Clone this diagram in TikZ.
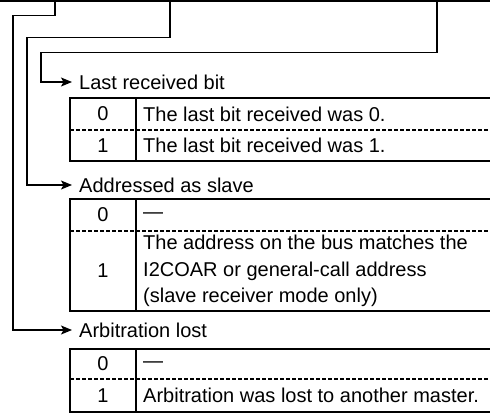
\documentclass[tikz,border=0pt]{standalone}
\usepackage{fontspec}
\setmainfont{Liberation Sans}
\usetikzlibrary{arrows.meta,positioning}

\tikzset{
  flag/.style={line width=1.3pt, -{Stealth[length=11pt,width=9pt,inset=2.5pt]}},
  bitlabel/.style={anchor=west, inner xsep=7pt, inner ysep=0pt},
  cellbox/.style={line width=1.7pt},
  rowsep/.style={line width=1.1pt, dash pattern=on 4pt off 2pt},
  bitval/.style={inner sep=0pt},
  bitdesc/.style={anchor=west, inner xsep=7pt, inner ysep=0pt, align=left}
}

\begin{document}
\begin{tikzpicture}[x=1pt, y=-1pt, font=\fontsize{20}{26.5}\selectfont]
  \useasboundingbox (0,0) rectangle (490,416);
  % register edge (top)
  \draw[line width=2.2pt] (0,1) -- (492,1);
  \coordinate (b0) at (55,1);
  \coordinate (b1) at (170,1);
  \coordinate (b2) at (437,1);
  % bit labels
  \node[bitlabel] (lastbit) at (72,82) {Last received bit};
  \node[bitlabel] (aas) at (72,185) {Addressed as slave};
  \node[bitlabel] (al) at (72,330) {Arbitration lost};
  % connectors
  \draw[flag] (b0) |- (13,15.7) |- (al.west);
  \draw[flag] (b1) |- (27,37.5) |- (aas.west);
  \draw[flag] (b2) |- (41,52.3) |- (lastbit.west);
  % Last received bit table
  \draw[cellbox] (70,98) rectangle (495,161);
  \draw[cellbox] (136,98) -- (136,161);
  \draw[rowsep] (70,130) -- (495,130);
  \node[bitval] (lr0) at (103,114) {0};
  \node[bitval] (lr1) at (103,145.5) {1};
  \node[bitdesc] (lrd0) at (136,114) {The last bit received was 0.};
  \node[bitdesc] (lrd1) at (136,145.5) {The last bit received was 1.};
  % Addressed as slave table
  \draw[cellbox] (70,199) rectangle (495,311);
  \draw[cellbox] (136,199) -- (136,311);
  \draw[rowsep] (70,231) -- (495,231);
  \node[bitval] (as0) at (103,215) {0};
  \node[bitval] (as1) at (103,271) {1};
  \node[bitdesc] (asd0) at (136,216) {---};
  \node[bitdesc] (asd1) at (136,271) {The address on the bus matches the\\I2COAR or general-call address\\(slave receiver mode only)};
  % Arbitration lost table
  \draw[cellbox] (70,349) rectangle (495,412);
  \draw[cellbox] (136,349) -- (136,412);
  \draw[rowsep] (70,379) -- (495,379);
  \node[bitval] (al0) at (103,364) {0};
  \node[bitval] (al1) at (103,395.5) {1};
  \node[bitdesc] (ald0) at (136,365) {---};
  \node[bitdesc] (ald1) at (136,395.5) {Arbitration was lost to another master.};
\end{tikzpicture}
\end{document}
